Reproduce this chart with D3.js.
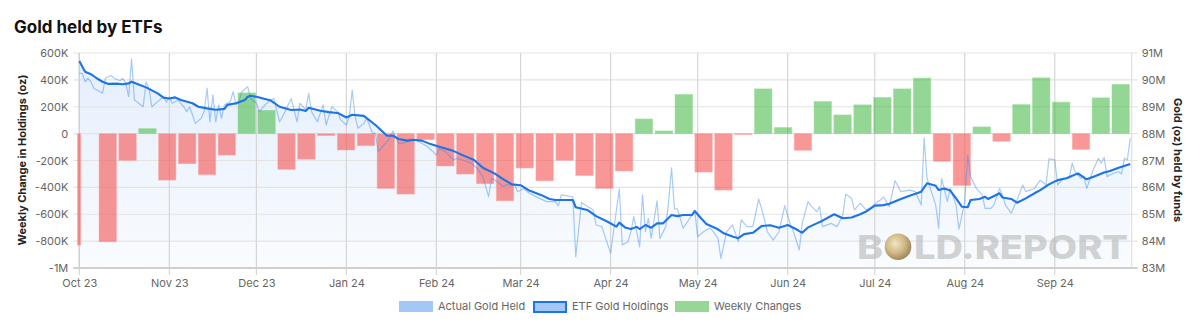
<!DOCTYPE html>
<html><head><meta charset="utf-8">
<script src="https://cdn.jsdelivr.net/npm/d3@7"></script>
<style>body{margin:0;background:#fff;}svg{font-family:Inter,"Noto Sans",sans-serif;display:block}</style>
</head><body><svg id="c" width="1200" height="334"></svg>
<script>
// ---------- DATA ----------
const barDates = ["2023-09-28T12","2023-10-10T19","2023-10-17T15","2023-10-24T11","2023-10-31T07","2023-11-07T04","2023-11-14T00","2023-11-20T20","2023-11-27T16","2023-12-04T12","2023-12-11T09","2023-12-18T05","2023-12-25T01","2023-12-31T21","2024-01-07T18","2024-01-14T14","2024-01-21T10","2024-01-28T06","2024-02-04T02","2024-02-10T23","2024-02-17T19","2024-02-24T15","2024-03-02T11","2024-03-09T07","2024-03-16T04","2024-03-23T00","2024-03-29T20","2024-04-05T16","2024-04-12T12","2024-04-19T09","2024-04-26T05","2024-05-03T01","2024-05-09T21","2024-05-16T17","2024-05-23T14","2024-05-30T10","2024-06-06T06","2024-06-13T02","2024-06-19T22","2024-06-26T19","2024-07-03T15","2024-07-10T11","2024-07-17T07","2024-07-24T03","2024-07-31T00","2024-08-06T20","2024-08-13T16","2024-08-20T12","2024-08-27T08","2024-09-03T05","2024-09-10T01","2024-09-16T21","2024-09-23T17"];
const barValues = [-830000,-805000,-200000,37000,-346000,-224000,-306000,-160000,303000,174000,-266000,-190000,-15000,-122000,-90000,-408000,-450000,-45000,-241000,-301000,-373000,-500000,-256000,-351000,-199000,-312000,-408000,-278000,109000,20000,291000,-286000,-420000,-7000,333000,45000,-124000,239000,139000,214000,269000,333000,413000,-206000,-386000,50000,-57000,216000,415000,234000,-117000,266000,366000];

const etfDates = ["2023-10-01","2023-10-03","2023-10-05","2023-10-07","2023-10-09","2023-10-11","2023-10-14","2023-10-16","2023-10-18","2023-10-19","2023-10-21","2023-10-24","2023-10-28","2023-10-30","2023-11-01","2023-11-03","2023-11-05","2023-11-09","2023-11-11","2023-11-14","2023-11-17","2023-11-20","2023-11-21","2023-11-24","2023-11-27","2023-11-28","2023-11-29","2023-12-01","2023-12-06","2023-12-09","2023-12-13","2023-12-16","2023-12-18","2023-12-19","2023-12-23","2023-12-26","2023-12-29","2024-01-01","2024-01-03","2024-01-07","2024-01-11","2024-01-15","2024-01-17","2024-01-19","2024-01-22","2024-01-24","2024-01-27","2024-01-30","2024-02-02","2024-02-07","2024-02-10","2024-02-14","2024-02-17","2024-02-21","2024-02-24","2024-02-27","2024-03-01","2024-03-04","2024-03-08","2024-03-11","2024-03-13","2024-03-19","2024-03-20","2024-03-24","2024-03-27","2024-03-31","2024-04-03","2024-04-04","2024-04-06","2024-04-08","2024-04-10","2024-04-11","2024-04-13","2024-04-15","2024-04-17","2024-04-19","2024-04-22","2024-04-24","2024-04-26","2024-04-29","2024-04-30","2024-05-02","2024-05-04","2024-05-08","2024-05-10","2024-05-13","2024-05-15","2024-05-17","2024-05-20","2024-05-23","2024-05-26","2024-05-29","2024-06-01","2024-06-04","2024-06-06","2024-06-08","2024-06-11","2024-06-13","2024-06-17","2024-06-20","2024-06-23","2024-06-26","2024-06-28","2024-07-01","2024-07-04","2024-07-06","2024-07-10","2024-07-13","2024-07-17","2024-07-19","2024-07-22","2024-07-23","2024-07-25","2024-07-27","2024-07-29","2024-07-31","2024-08-02","2024-08-03","2024-08-06","2024-08-08","2024-08-09","2024-08-13","2024-08-14","2024-08-17","2024-08-19","2024-08-22","2024-08-25","2024-08-27","2024-08-30","2024-09-02","2024-09-05","2024-09-09","2024-09-12","2024-09-15","2024-09-18","2024-09-20","2024-09-23","2024-09-27"];
const etfValues = [90.70,90.30,90.21,90.06,89.93,89.85,89.86,89.84,89.87,89.93,89.85,89.72,89.50,89.34,89.31,89.35,89.25,89.13,89.00,88.94,88.89,88.92,89.07,89.13,89.25,89.37,89.41,89.37,89.23,89.00,88.88,88.90,88.84,88.96,88.85,88.80,88.77,88.60,88.70,88.66,88.32,87.92,87.92,87.80,87.74,87.77,87.74,87.61,87.51,87.35,87.20,87.02,86.73,86.52,86.31,86.11,86.08,85.88,85.72,85.57,85.53,85.53,85.26,85.16,84.93,84.72,84.54,84.69,84.51,84.45,84.53,84.45,84.60,84.50,84.66,84.66,84.97,84.93,84.97,84.97,85.12,84.87,84.64,84.44,84.29,84.17,84.11,84.26,84.31,84.56,84.59,84.50,84.60,84.44,84.31,84.51,84.66,84.76,85.00,84.85,84.88,85.00,85.10,85.32,85.34,85.39,85.57,85.69,85.84,86.15,86.06,85.90,85.96,85.88,85.59,85.28,85.26,85.53,85.57,85.65,85.57,85.78,85.62,85.57,85.43,85.59,85.78,85.90,86.11,86.27,86.34,86.52,86.30,86.42,86.55,86.61,86.73,86.87];

const actualDates = ["2023-10-01","2023-10-02","2023-10-03","2023-10-04","2023-10-05","2023-10-06","2023-10-09","2023-10-10","2023-10-12","2023-10-13","2023-10-15","2023-10-16","2023-10-17","2023-10-18","2023-10-19","2023-10-20","2023-10-23","2023-10-24","2023-10-25","2023-10-26","2023-10-28","2023-10-30","2023-10-31","2023-11-01","2023-11-02","2023-11-04","2023-11-06","2023-11-07","2023-11-08","2023-11-10","2023-11-12","2023-11-13","2023-11-14","2023-11-15","2023-11-16","2023-11-17","2023-11-18","2023-11-19","2023-11-20","2023-11-22","2023-11-23","2023-11-24","2023-11-25","2023-11-26","2023-11-28","2023-11-29","2023-12-01","2023-12-02","2023-12-04","2023-12-06","2023-12-07","2023-12-09","2023-12-10","2023-12-13","2023-12-14","2023-12-15","2023-12-16","2023-12-18","2023-12-19","2023-12-20","2023-12-22","2023-12-24","2023-12-25","2023-12-27","2023-12-29","2023-12-30","2024-01-01","2024-01-02","2024-01-03","2024-01-04","2024-01-05","2024-01-07","2024-01-08","2024-01-10","2024-01-11","2024-01-12","2024-01-14","2024-01-16","2024-01-17","2024-01-19","2024-01-20","2024-01-22","2024-01-25","2024-01-26","2024-01-29","2024-02-01","2024-02-02","2024-02-04","2024-02-07","2024-02-08","2024-02-10","2024-02-13","2024-02-15","2024-02-17","2024-02-19","2024-02-20","2024-02-22","2024-02-24","2024-02-25","2024-02-28","2024-02-29","2024-03-02","2024-03-04","2024-03-07","2024-03-10","2024-03-13","2024-03-14","2024-03-15","2024-03-19","2024-03-20","2024-03-22","2024-03-26","2024-03-27","2024-03-29","2024-04-01","2024-04-04","2024-04-05","2024-04-07","2024-04-08","2024-04-09","2024-04-11","2024-04-12","2024-04-13","2024-04-14","2024-04-15","2024-04-17","2024-04-18","2024-04-20","2024-04-21","2024-04-22","2024-04-23","2024-04-24","2024-04-26","2024-04-29","2024-04-30","2024-05-01","2024-05-03","2024-05-05","2024-05-06","2024-05-08","2024-05-09","2024-05-11","2024-05-13","2024-05-15","2024-05-16","2024-05-18","2024-05-20","2024-05-22","2024-05-23","2024-05-25","2024-05-27","2024-05-29","2024-05-31","2024-06-02","2024-06-03","2024-06-05","2024-06-06","2024-06-08","2024-06-09","2024-06-11","2024-06-12","2024-06-13","2024-06-16","2024-06-18","2024-06-20","2024-06-21","2024-06-23","2024-06-24","2024-06-26","2024-06-28","2024-06-30","2024-07-02","2024-07-03","2024-07-04","2024-07-06","2024-07-08","2024-07-10","2024-07-13","2024-07-15","2024-07-17","2024-07-18","2024-07-19","2024-07-22","2024-07-23","2024-07-24","2024-07-26","2024-07-27","2024-07-29","2024-07-30","2024-08-01","2024-08-02","2024-08-03","2024-08-05","2024-08-07","2024-08-08","2024-08-10","2024-08-11","2024-08-13","2024-08-14","2024-08-15","2024-08-17","2024-08-19","2024-08-21","2024-08-22","2024-08-25","2024-08-27","2024-08-29","2024-08-30","2024-09-01","2024-09-02","2024-09-04","2024-09-06","2024-09-07","2024-09-08","2024-09-10","2024-09-11","2024-09-12","2024-09-14","2024-09-16","2024-09-17","2024-09-18","2024-09-19","2024-09-21","2024-09-23","2024-09-24","2024-09-25","2024-09-26","2024-09-27"];
const actualValues = [90.24,90.24,89.93,90.06,89.93,89.69,89.50,90.06,90.16,90.06,89.97,90.06,89.87,89.37,90.78,89.25,89.00,89.93,89.69,89.00,89.19,89.37,89.17,89.37,89.13,89.25,89.00,88.82,89.00,88.38,88.57,88.82,89.69,88.44,89.44,88.44,89.07,88.57,89.07,89.19,89.56,89.07,89.19,89.56,89.75,89.31,89.13,88.82,89.07,89.25,89.31,88.44,88.63,89.31,88.88,88.44,89.13,88.88,89.50,88.82,88.44,89.07,88.32,89.00,88.82,88.51,88.32,88.63,89.62,88.63,88.20,88.38,88.57,88.01,88.01,87.33,87.58,87.83,88.10,87.64,87.64,87.70,87.76,87.70,87.51,87.20,87.45,87.33,87.02,87.08,87.02,86.90,86.71,86.40,85.65,86.34,86.21,86.03,86.09,86.09,85.84,85.96,85.78,85.62,85.47,85.47,85.31,85.72,85.65,83.42,85.44,85.16,84.60,84.54,83.55,85.94,83.86,83.98,84.35,84.91,83.79,85.72,84.35,84.85,84.10,85.50,84.10,84.54,85.47,86.73,85.20,85.20,84.48,84.97,85.15,84.16,84.35,84.48,84.41,84.10,83.36,84.35,84.60,83.98,84.79,84.54,84.54,85.56,85.22,84.35,84.04,84.35,85.32,84.60,84.35,83.67,84.66,85.47,85.32,85.10,85.28,84.54,84.66,84.54,84.97,85.75,85.59,85.16,85.41,85.16,85.28,85.47,85.53,85.65,85.28,86.25,85.84,85.90,85.84,85.34,87.85,86.34,85.34,84.48,86.34,85.47,85.96,85.34,84.45,85.47,87.20,86.40,85.96,85.72,85.22,85.22,85.34,85.96,85.72,85.34,85.04,85.53,86.09,85.84,85.96,86.27,86.09,87.06,87.02,86.09,86.34,86.34,86.90,86.58,86.34,86.40,85.96,86.58,87.08,86.90,87.12,86.40,86.52,86.58,86.50,87.08,87.02,87.83];

const leftTicks = [600000,400000,200000,0,-200000,-400000,-600000,-800000,-1000000];
const leftTickLabels = ["600K","400K","200K","0","-200K","-400K","-600K","-800K","-1M"];
const rightTicks = [91,90,89,88,87,86,85,84,83];
const rightTickLabels = ["91M","90M","89M","88M","87M","86M","85M","84M","83M"];
const monthTicks = ["2023-10-01","2023-11-01","2023-12-01","2024-01-01","2024-02-01","2024-03-01","2024-04-01","2024-05-01","2024-06-01","2024-07-01","2024-08-01","2024-09-01"];
const monthLabels = ["Oct 23","Nov 23","Dec 23","Jan 24","Feb 24","Mar 24","Apr 24","May 24","Jun 24","Jul 24","Aug 24","Sep 24"];
const xDomain = ["2023-10-01T00","2024-09-27T12"];
const legendLabels = ["Actual Gold Held","ETF Gold Holdings","Weekly Changes"];

// ---------- CHART ----------
const pd = s => d3.utcParse(s.length > 10 ? "%Y-%m-%dT%H" : "%Y-%m-%d")(s);
const svg = d3.select("#c");
const X0 = 79.3, X1 = 1131.7, Y0 = 53, Y1 = 268;
const x = d3.scaleUtc().domain(xDomain.map(pd)).range([X0, X1]);
const yL = d3.scaleLinear().domain([-1000000, 600000]).range([Y1, Y0]);
const yR = d3.scaleLinear().domain([83, 91]).range([Y1, Y0]);

const defs = svg.append("defs");
const grad = defs.append("linearGradient").attr("id","ag").attr("x1",0).attr("y1",0).attr("x2",0).attr("y2",1)
  .attr("gradientUnits","userSpaceOnUse").attr("y1",Y0).attr("y2",Y1).attr("x1",0).attr("x2",0);
grad.append("stop").attr("offset","0").attr("stop-color","rgba(26,115,232,0.12)");
grad.append("stop").attr("offset","1").attr("stop-color","rgba(26,115,232,0.025)");
const cg = defs.append("radialGradient").attr("id","coin").attr("cx","40%").attr("cy","38%").attr("r","65%");
cg.append("stop").attr("offset","0").attr("stop-color","#efe2b8");
cg.append("stop").attr("offset","0.55").attr("stop-color","#c9ad72");
cg.append("stop").attr("offset","1").attr("stop-color","#8c6f3c");
defs.append("clipPath").attr("id","clip").append("rect").attr("x",X0-2).attr("y",0).attr("width",X1-X0+2).attr("height",334);

// title
svg.append("text").attr("x",14).attr("y",33).attr("font-size",17).attr("font-weight",700).attr("fill","#111").text("Gold held by ETFs");

// area under ETF line
const etf = etfDates.map((d,i)=>({d:pd(d), v:etfValues[i]}));
const act = actualDates.map((d,i)=>({d:pd(d), v:actualValues[i]}));
svg.append("path").datum(etf).attr("fill","url(#ag)")
  .attr("d", d3.area().x(p=>x(p.d)).y0(Y1).y1(p=>yR(p.v)));

// horizontal grid
svg.append("g").selectAll("line").data(leftTicks).join("line")
  .attr("x1",X0-6).attr("x2",X1+6).attr("y1",d=>yL(d)).attr("y2",d=>yL(d))
  .attr("stroke","#e3e3e3").attr("stroke-width",1.2);
// vertical grid
svg.append("g").selectAll("line").data(monthTicks.map(pd)).join("line")
  .attr("x1",d=>x(d)).attr("x2",d=>x(d)).attr("y1",Y0).attr("y2",Y1+7)
  .attr("stroke","#d6d6d6").attr("stroke-width",1.2);
// borders
svg.append("line").attr("x1",X0).attr("x2",X0).attr("y1",Y0).attr("y2",Y1).attr("stroke","#d0d0d0").attr("stroke-width",1.3);
svg.append("line").attr("x1",X1).attr("x2",X1).attr("y1",Y0).attr("y2",Y1).attr("stroke","#e0e0e0").attr("stroke-width",1.2);
svg.append("line").attr("x1",X0-6).attr("x2",X1+6).attr("y1",Y1).attr("y2",Y1).attr("stroke","#cfcfcf").attr("stroke-width",2);

// watermark
const wm = svg.append("g");
wm.append("text").attr("x",857).attr("y",258.5).attr("font-size",32).attr("font-weight",800)
  .attr("fill","#b5b5b5").attr("fill-opacity",0.6).attr("textLength",26).attr("lengthAdjust","spacingAndGlyphs").text("B");
wm.append("circle").attr("cx",898).attr("cy",246.7).attr("r",13.3).attr("fill","url(#coin)").attr("opacity",0.85);
wm.append("text").attr("x",914).attr("y",258.5).attr("font-size",32).attr("font-weight",800)
  .attr("fill","#b5b5b5").attr("fill-opacity",0.6).attr("textLength",214).attr("lengthAdjust","spacingAndGlyphs").text("LD.REPORT");

// bars
const bars = barDates.map((d,i)=>({d:pd(d), v:barValues[i]}));
const bw = 17.4;
svg.append("g").attr("clip-path","url(#clip)").selectAll("rect").data(bars).join("rect")
  .attr("x",p=>x(p.d)-bw/2).attr("width",bw)
  .attr("y",p=>yL(Math.max(0,p.v))).attr("height",p=>Math.abs(yL(p.v)-yL(0)))
  .attr("fill",p=>p.v>=0?"rgba(60,182,60,0.55)":"rgba(245,85,85,0.62)")
  .attr("stroke",p=>p.v>=0?"rgba(150,220,150,0.6)":"rgba(255,170,170,0.6)").attr("stroke-width",0.8);

// lines
svg.append("path").datum(act).attr("fill","none").attr("stroke","rgba(60,140,240,0.45)").attr("stroke-width",1.2)
  .attr("stroke-linejoin","round").attr("d", d3.line().x(p=>x(p.d)).y(p=>yR(p.v)));
svg.append("path").datum(etf).attr("fill","none").attr("stroke","#1c74e6").attr("stroke-width",2.1)
  .attr("stroke-linejoin","round").attr("d", d3.line().x(p=>x(p.d)).y(p=>yR(p.v)));

// axes
const axStyle = g => { g.select(".domain").remove(); g.selectAll(".tick line").remove();
  g.selectAll("text").attr("fill","#666").attr("font-size",11).attr("font-family","Inter, 'Noto Sans', sans-serif"); };
svg.append("g").attr("transform",`translate(${X0},0)`)
  .call(d3.axisLeft(yL).tickValues(leftTicks).tickFormat((d,i)=>leftTickLabels[i]).tickSize(6).tickPadding(5)).call(axStyle);
svg.append("g").attr("transform",`translate(${X1},0)`)
  .call(d3.axisRight(yR).tickValues(rightTicks).tickFormat((d,i)=>rightTickLabels[i]).tickSize(6).tickPadding(4)).call(axStyle);
svg.append("g").attr("transform",`translate(0,${Y1})`)
  .call(d3.axisBottom(x).tickValues(monthTicks.map(pd)).tickFormat((d,i)=>monthLabels[i]).tickSize(7).tickPadding(4)).call(axStyle);

// axis titles
svg.append("text").attr("transform","translate(26,160) rotate(-90)").attr("text-anchor","middle")
  .attr("font-size",11).attr("font-weight",700).attr("fill","#222").text("Weekly Change in Holdings (oz)");
svg.append("text").attr("transform","translate(1174,160) rotate(90)").attr("text-anchor","middle")
  .attr("font-size",11).attr("font-weight",700).attr("fill","#222").text("Gold (oz) held by funds");

// legend
const lg = svg.append("g").attr("font-size",11).attr("fill","#666");
const lx = [399, 533, 675];
lg.append("rect").attr("x",lx[0]).attr("y",301).attr("width",34).attr("height",11).attr("fill","#a3c7f6");
lg.append("rect").attr("x",lx[1]+1).attr("y",302).attr("width",32).attr("height",10).attr("fill","#a3c7f6").attr("stroke","#1c74e6").attr("stroke-width",2);
lg.append("rect").attr("x",lx[2]).attr("y",301).attr("width",34).attr("height",11).attr("fill","#95d895");
lg.selectAll("text.l").data(legendLabels).join("text").attr("class","l")
  .attr("x",(d,i)=>lx[i]+39).attr("y",310).attr("fill","#666").text(d=>d);
</script></body></html>
